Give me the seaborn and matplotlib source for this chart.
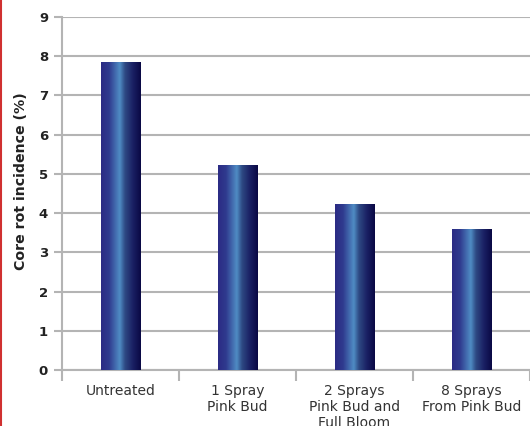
import numpy as np
import pandas as pd
import matplotlib
matplotlib.use("Agg")
import matplotlib.pyplot as plt
from matplotlib.colors import LinearSegmentedColormap
from matplotlib.lines import Line2D
import seaborn as sns

categories = ["Untreated", "1 Spray\nPink Bud", "2 Sprays\nPink Bud and\nFull Bloom", "8 Sprays\nFrom Pink Bud"]
values = [7.85, 5.23, 4.22, 3.60]
y_ticks = [0, 1, 2, 3, 4, 5, 6, 7, 8, 9]

sns.set_theme(style="white")
plt.rcParams['font.family'] = ['DejaVu Sans']

df = pd.DataFrame({"Treatment": categories, "Incidence": values})

fig = plt.figure(figsize=(5.30, 4.26), dpi=100)
ax = fig.add_axes([0.117, 0.1315, 0.883, 0.8286])

sns.barplot(data=df, x="Treatment", y="Incidence", ax=ax, width=0.34,
            color="#2a2a80", saturation=1)

grey = "#b4b4b4"
ax.set_ylim(0, 9)
ax.set_xlim(-0.5, 3.5)
ax.set_yticks(y_ticks)
ax.yaxis.grid(True, color=grey, linewidth=1.5)
ax.set_axisbelow(True)

cmap = LinearSegmentedColormap.from_list(
    "bar", [(0.0, "#2b2b84"), (0.2, "#2f3a8e"), (0.47, "#4f8cc4"),
            (0.6, "#2e4a84"), (0.8, "#1a2064"), (1.0, "#0a0844")])
grad = np.linspace(0, 1, 256).reshape(1, -1)
for p in list(ax.patches):
    x0, y0 = p.get_x(), p.get_y()
    w, h = p.get_width(), p.get_height()
    im = ax.imshow(grad, cmap=cmap, aspect="auto",
                   extent=[x0, x0 + w, y0, y0 + h], zorder=3)
    im.set_clip_path(p)
    p.set_facecolor("none")
    p.set_edgecolor("none")
ax.set_xlim(-0.5, 3.5)
ax.set_ylim(0, 9)

for s in ["top", "right"]:
    ax.spines[s].set_visible(False)
for s in ["left", "bottom"]:
    ax.spines[s].set_color(grey)
    ax.spines[s].set_linewidth(1.5)

ax.tick_params(axis="y", which="major", length=6, width=1.5, color=grey,
               labelsize=9.5, pad=4, left=True)
for t in ax.get_yticklabels():
    t.set_fontweight("bold")
    t.set_color("#222222")

ax.set_xticks([-0.5, 0.5, 1.5, 2.5, 3.5])
ax.set_xticklabels([])
ax.set_xticks([0, 1, 2, 3], minor=True)
ax.set_xticklabels(categories, minor=True, fontsize=10, color="#333333",
                   linespacing=1.18)
ax.tick_params(axis="x", which="major", length=8, width=1.5, color=grey, bottom=True)
ax.tick_params(axis="x", which="minor", length=0, pad=10)

ax.set_xlabel("")
ax.set_ylabel("Core rot incidence (%)", fontsize=10.2, fontweight="bold",
              color="#222222")
ax.yaxis.set_label_coords(-0.073, 0.535)

fig.add_artist(Line2D([0.002, 0.002], [0, 1], transform=fig.transFigure,
                      color="#d03030", linewidth=1.5))

fig.savefig("out.png", dpi=100)
